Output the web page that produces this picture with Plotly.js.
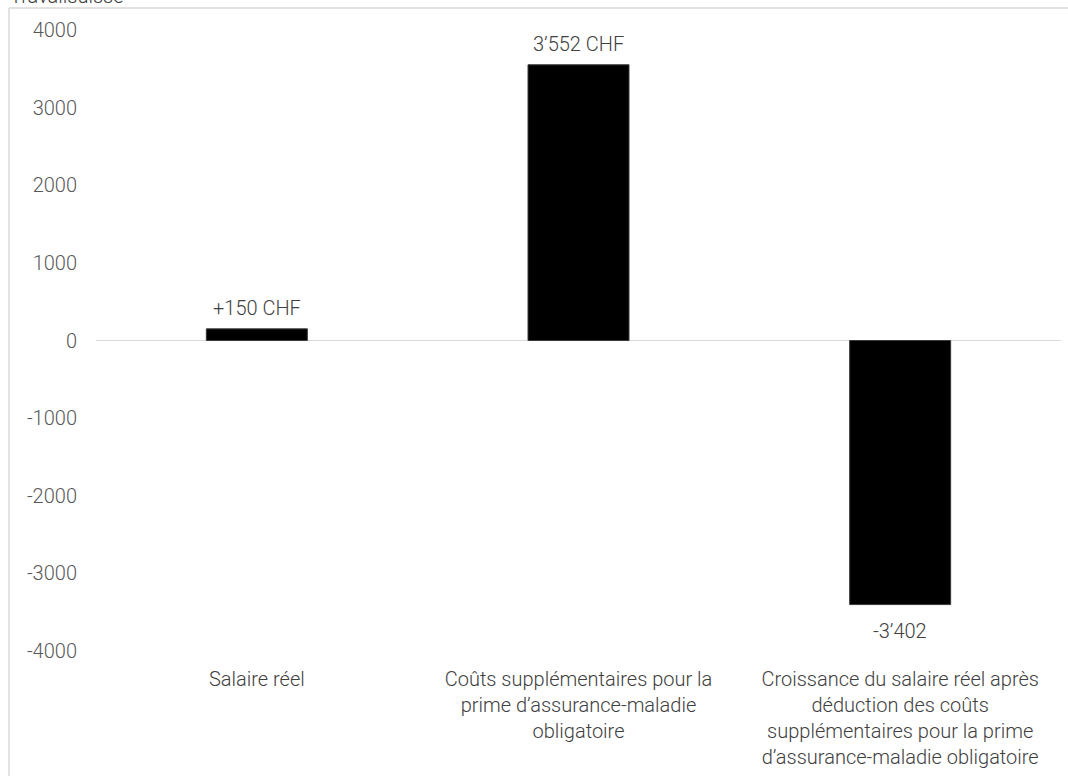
<!DOCTYPE html>
<html>
<head>
<meta charset="utf-8">
<script src="https://cdn.plot.ly/plotly-3.0.1.min.js"></script>
<style>
  html, body { margin: 0; padding: 0; background: #fff; overflow: hidden; }
  #chart { width: 1068px; height: 776px; }
</style>
</head>
<body>
<div id="chart"></div>
<script>
const categories = [
  "Salaire réel",
  "Coûts supplémentaires pour la<br>prime d’assurance-maladie<br>obligatoire",
  "Croissance du salaire réel après<br>déduction des coûts<br>supplémentaires pour la prime<br>d’assurance-maladie obligatoire"
];
const values = [150, 3552, -3402];
const valueLabels = ["+150 CHF", "3’552 CHF", "-3’402"];
const yTicks = [-4000, -3000, -2000, -1000, 0, 1000, 2000, 3000, 4000];
const sourceText = "Travailsuisse";

const L = 96, R = 1061, T = 30, B = 651;
const W = 1068, H = 776;
const pw = R - L, ph = B - T;
const px = x => (x - L) / pw;
const py = y => (B - y) / ph;

const fontFam = "Roboto, 'Open Sans', sans-serif";
const FS = 20;

const trace = {
  type: "bar",
  x: categories,
  y: values,
  marker: { color: "#000000", line: { color: "#3a3a3a", width: 1 } },
  hoverinfo: "skip"
};

const labelAnnotations = categories.map((c, i) => ({
  xref: "x", yref: "y", x: c, y: values[i],
  text: valueLabels[i], showarrow: false,
  xanchor: "center",
  yanchor: values[i] >= 0 ? "bottom" : "top",
  yshift: values[i] >= 0 ? 7 : -12,
  font: { family: fontFam, size: FS, weight: 300, color: "#404040" }
}));

const layout = {
  width: W, height: H,
  margin: { l: L, r: W - R, t: T, b: H - B, pad: 0 },
  paper_bgcolor: "#ffffff",
  plot_bgcolor: "#ffffff",
  showlegend: false,
  bargap: 0.686,
  font: { family: fontFam, size: FS, weight: 300, color: "#595959" },
  xaxis: {
    showgrid: false, showline: false, zeroline: false,
    ticks: "", tickfont: { family: fontFam, size: FS, weight: 300, color: "#404040" },
    ticklabelstandoff: 14,
    tickangle: 0
  },
  yaxis: {
    range: [-4000, 4000],
    tickvals: yTicks,
    ticktext: yTicks.map(String),
    showgrid: false, showline: false,
    zeroline: true, zerolinecolor: "#d9d9d9", zerolinewidth: 1.5,
    ticks: "", ticklabelstandoff: 18,
    tickfont: { family: fontFam, size: FS, weight: 300, color: "#595959" }
  },
  shapes: [
    { type: "line", xref: "paper", yref: "paper",
      x0: px(9), x1: px(9), y0: py(8), y1: py(H + 10),
      line: { color: "#d9d9d9", width: 1.5 } },
    { type: "line", xref: "paper", yref: "paper",
      x0: px(9), x1: px(W + 10), y0: py(8), y1: py(8),
      line: { color: "#d9d9d9", width: 1.5 } }
  ],
  annotations: labelAnnotations.concat([
    { xref: "paper", yref: "paper", x: px(8), y: py(10),
      xanchor: "left", yanchor: "bottom", showarrow: false,
      text: sourceText,
      font: { family: fontFam, size: 20, weight: 300, color: "#404040" } }
  ])
};

Plotly.newPlot("chart", [trace], layout, { displayModeBar: false, staticPlot: true });
</script>
</body>
</html>
